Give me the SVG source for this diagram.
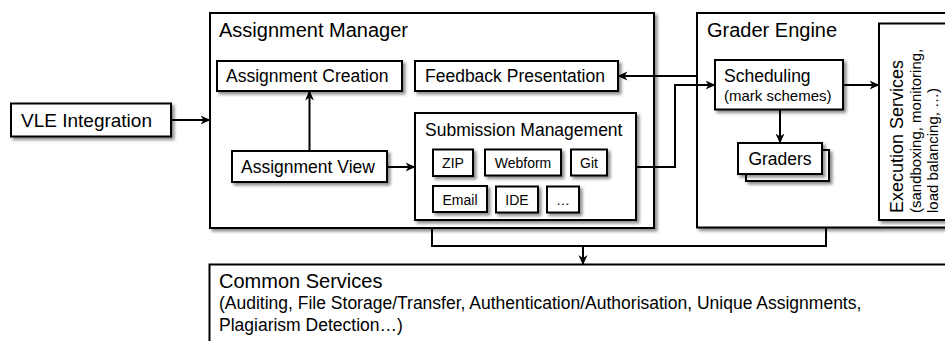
<svg xmlns="http://www.w3.org/2000/svg" width="945" height="341" viewBox="0 0 945 341">
  <defs>
    <filter id="shadow" x="-10%" y="-10%" width="130%" height="130%">
      <feDropShadow dx="2.5" dy="2.5" stdDeviation="1.5" flood-color="#000" flood-opacity="0.45"/>
    </filter>
    <marker id="arrow" viewBox="0 0 10 10" refX="9.5" refY="5" markerWidth="10" markerHeight="10" markerUnits="userSpaceOnUse" orient="auto">
      <path d="M0,0.5 L10,5 L0,9.5 L3,5 Z" fill="#000"/>
    </marker>
    <style>
      .box { fill: #fff; stroke: #000; stroke-width: 2; filter: url(#shadow); }
      .wire { fill: none; stroke: #000; stroke-width: 2; }
      .arr { marker-end: url(#arrow); }
      text { font-family: "Liberation Sans", Arial, Helvetica, sans-serif; fill: #000; }
      .title { font-size: 20px; }
      .label { font-size: 17.5px; }
      .sub { font-size: 15px; }
      .small { font-size: 14px; text-anchor: middle; }
    </style>
  </defs>

  <rect width="945" height="341" fill="#fff"/>

  <!-- Common Services (runs off the bottom and right edges) -->
  <g id="common-services">
    <rect class="box" x="209.5" y="264.5" width="760" height="100"/>
    <text class="title" x="219" y="288">Common Services</text>
    <text class="label" x="219" y="309">(Auditing, File Storage/Transfer, Authentication/Authorisation, Unique Assignments,</text>
    <text class="label" x="219" y="331">Plagiarism Detection…)</text>
  </g>

  <g id="vle-integration">
    <rect class="box" x="11" y="103.5" width="160" height="33"/>
    <text x="21" y="127" style="font-size:19px">VLE Integration</text>
  </g>

  <g id="assignment-manager">
    <rect class="box" x="210" y="13" width="444" height="215"/>
    <text class="title" x="219" y="37">Assignment Manager</text>
  </g>

  <g id="assignment-creation">
    <rect class="box" x="217" y="61" width="185" height="30"/>
    <text class="label" x="226" y="82">Assignment Creation</text>
  </g>

  <g id="feedback-presentation">
    <rect class="box" x="415" y="61" width="203" height="30"/>
    <text class="label" x="425" y="82">Feedback Presentation</text>
  </g>

  <g id="assignment-view">
    <rect class="box" x="232" y="151" width="155" height="31"/>
    <text class="label" x="241" y="172.5">Assignment View</text>
  </g>

  <g id="submission-management">
    <rect class="box" x="415" y="113" width="221" height="107"/>
    <text class="label" x="425" y="136">Submission Management</text>
  </g>

  <g id="sub-zip">
    <rect class="box" x="433" y="149.5" width="40" height="26.5"/>
    <text class="small" x="453" y="168">ZIP</text>
  </g>
  <g id="sub-webform">
    <rect class="box" x="485" y="149.5" width="76" height="26"/>
    <text class="small" x="523" y="168">Webform</text>
  </g>
  <g id="sub-git">
    <rect class="box" x="571" y="149.5" width="36" height="26"/>
    <text class="small" x="589" y="168">Git</text>
  </g>
  <g id="sub-email">
    <rect class="box" x="433" y="186" width="54" height="26"/>
    <text class="small" x="460" y="204.5">Email</text>
  </g>
  <g id="sub-ide">
    <rect class="box" x="496" y="186.5" width="42" height="26"/>
    <text class="small" x="517" y="205">IDE</text>
  </g>
  <g id="sub-more">
    <rect class="box" x="547" y="186.5" width="32" height="26"/>
    <text class="small" x="563" y="205">…</text>
  </g>

  <!-- Grader Engine (runs off the right edge) -->
  <g id="grader-engine">
    <rect class="box" x="697" y="13" width="270" height="214.5"/>
    <text class="title" x="707" y="37">Grader Engine</text>
  </g>

  <g id="scheduling">
    <rect class="box" x="715" y="60" width="128" height="49.5"/>
    <text class="label" x="724" y="82">Scheduling</text>
    <text class="sub" x="724" y="101">(mark schemes)</text>
  </g>

  <g id="graders">
    <rect class="box" x="746" y="150" width="83" height="31"/>
    <rect class="box" x="738" y="143" width="84" height="31"/>
    <text class="label" x="780" y="164.5" text-anchor="middle">Graders</text>
  </g>

  <g id="execution-services">
    <rect class="box" x="879" y="23.5" width="80" height="196.5"/>
    <g transform="translate(903,213) rotate(-90)">
      <text x="0" y="0" style="font-size:18px">Execution Services</text>
      <text class="sub" x="0" y="17.5">(sandboxing, monitoring,</text>
      <text class="sub" x="0" y="34.5">load balancing, …)</text>
    </g>
  </g>

  <g id="connectors">
    <line class="wire arr" x1="171" y1="120" x2="210" y2="120"/>
    <line class="wire arr" x1="309.5" y1="151" x2="309.5" y2="91"/>
    <line class="wire arr" x1="387" y1="167" x2="415" y2="167"/>
    <line class="wire arr" x1="697" y1="76" x2="618" y2="76"/>
    <polyline class="wire arr" points="636,167 675,167 675,85 715,85"/>
    <line class="wire arr" x1="780" y1="109.5" x2="780" y2="143"/>
    <line class="wire arr" x1="843" y1="85" x2="879" y2="85"/>
    <polyline class="wire" points="432,228 432,246 826,246 826,227.5"/>
    <line class="wire arr" x1="583" y1="246" x2="583" y2="264.5"/>
  </g>
</svg>
